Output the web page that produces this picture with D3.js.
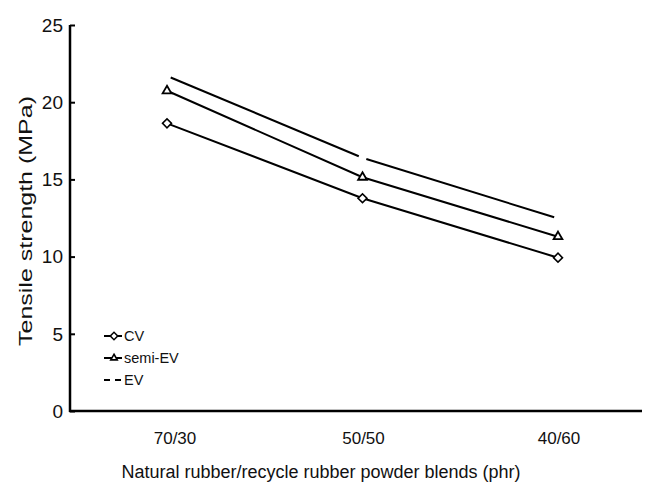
<!DOCTYPE html>
<html><head><meta charset="utf-8">
<script src="https://cdn.jsdelivr.net/npm/d3@7"></script>
<style>body{margin:0;background:#fff}svg{display:block;font-family:"Liberation Sans",Arial,sans-serif}</style>
</head><body>
<svg id="c" width="647" height="484"></svg>
<script>
const categories = ["70/30", "50/50", "40/60"];
const cvValues = [18.63, 13.78, 9.93];
const semiEvValues = [20.74, 15.14, 11.29];
const evValues = [21.7, 16.4, 12.47];
const yTicks = [0, 5, 10, 15, 20, 25];
const seriesNames = ["CV", "semi-EV", "EV"];

const svg = d3.select("#c");
const x = d3.scalePoint().domain(categories).range([167, 558]);
const y = d3.scaleLinear().domain([0, 25]).range([411, 25]);
const xAxisStart = 70, xAxisEnd = 642;

// axes
const ya = svg.append("g").attr("transform", `translate(${xAxisStart},0)`)
  .call(d3.axisRight(y).tickValues(yTicks).tickSize(5).tickFormat(""));
ya.select(".domain").remove();
ya.selectAll("line").attr("stroke", "#000").attr("stroke-width", 2);
svg.append("line").attr("x1", xAxisStart).attr("x2", xAxisStart).attr("y1", y(25)).attr("y2", y(0) + 1)
  .attr("stroke", "#000").attr("stroke-width", 2.5);
svg.append("line").attr("x1", xAxisStart - 1).attr("x2", xAxisEnd).attr("y1", y(0)).attr("y2", y(0))
  .attr("stroke", "#000").attr("stroke-width", 2.5);

svg.append("g").selectAll("text").data(yTicks).join("text")
  .attr("x", 63).attr("y", d => y(d)).attr("dy", "0.36em").attr("text-anchor", "end")
  .attr("font-size", 19).attr("fill", "#111").text(d => d);

svg.append("g").selectAll("text").data(categories).join("text")
  .attr("x", d => x(d) + (d === categories[0] ? 8 : 1)).attr("y", 444).attr("text-anchor", "middle")
  .attr("font-size", 17).attr("fill", "#111").text(d => d);

svg.append("text").attr("x", 321).attr("y", 478).attr("text-anchor", "middle")
  .attr("font-size", 18).attr("fill", "#111").text("Natural rubber/recycle rubber powder blends (phr)");
svg.append("text").attr("transform", "translate(32,221) rotate(-90)").attr("text-anchor", "middle")
  .attr("font-size", 18).attr("textLength", 250).attr("lengthAdjust", "spacingAndGlyphs")
  .attr("fill", "#111").text("Tensile strength (MPa)");

const line = d3.line().x((d, i) => x(categories[i])).y(d => y(d));
const tri = d3.symbol().type(d3.symbolTriangle2 || d3.symbolTriangle).size(55);

// EV: segments with gaps at each (hidden) point
const evPts = evValues.map((v, i) => [x(categories[i]), y(v)]);
const gap = 4;
for (let i = 0; i < evPts.length - 1; i++) {
  const [x1, y1] = evPts[i], [x2, y2] = evPts[i + 1];
  const L = Math.hypot(x2 - x1, y2 - y1), ux = (x2 - x1) / L, uy = (y2 - y1) / L;
  svg.append("line").attr("x1", x1 + ux * gap).attr("y1", y1 + uy * gap)
    .attr("x2", x2 - ux * gap).attr("y2", y2 - uy * gap)
    .attr("stroke", "#000").attr("stroke-width", 2);
}

svg.append("path").attr("d", line(semiEvValues)).attr("fill", "none").attr("stroke", "#000").attr("stroke-width", 2);
svg.append("path").attr("d", line(cvValues)).attr("fill", "none").attr("stroke", "#000").attr("stroke-width", 2);

svg.append("g").selectAll("path").data(cvValues).join("path")
  .attr("transform", (d, i) => `translate(${x(categories[i])},${y(d)}) rotate(45)`)
  .attr("d", d3.symbol().type(d3.symbolSquare).size(40)).attr("fill", "#fff").attr("stroke", "#000").attr("stroke-width", 1.6);
svg.append("g").selectAll("path").data(semiEvValues).join("path")
  .attr("transform", (d, i) => `translate(${x(categories[i])},${y(d)})`)
  .attr("d", tri).attr("fill", "#fff").attr("stroke", "#000").attr("stroke-width", 1.8);

// legend
const lg = svg.append("g");
const ly = [336, 358, 380];
seriesNames.forEach((name, i) => {
  const g = lg.append("g").attr("transform", `translate(0,${ly[i]})`);
  if (i < 2) {
    g.append("line").attr("x1", 104).attr("x2", 122).attr("y1", 0).attr("y2", 0).attr("stroke", "#000").attr("stroke-width", 2);
    if (i === 0) g.append("path").attr("transform", "translate(114,0) rotate(45)").attr("d", d3.symbol().type(d3.symbolSquare).size(28))
      .attr("fill", "#fff").attr("stroke", "#000").attr("stroke-width", 1.5);
    else g.append("path").attr("transform", "translate(114,0)").attr("d", d3.symbol().type(d3.symbolTriangle2 || d3.symbolTriangle).size(30))
      .attr("fill", "#fff").attr("stroke", "#000").attr("stroke-width", 1.6);
  } else {
    g.append("line").attr("x1", 104).attr("x2", 122).attr("y1", 0).attr("y2", 0).attr("stroke", "#000").attr("stroke-width", 2)
      .attr("stroke-dasharray", "6,5");
  }
  g.append("text").attr("x", 124).attr("y", 0).attr("dy", "0.36em").attr("font-size", 14.5).attr("fill", "#111").text(name);
});
</script>
</body></html>
